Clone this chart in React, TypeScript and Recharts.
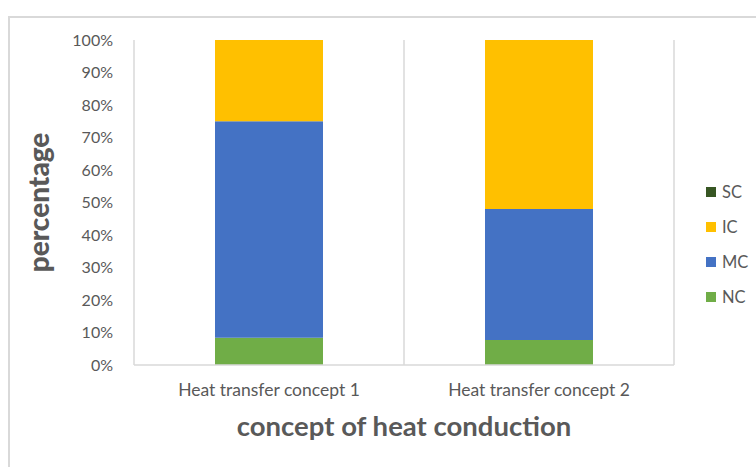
import { BarChart, Bar, XAxis, YAxis, CartesianGrid } from "recharts";

const categories = ["Heat transfer concept 1", "Heat transfer concept 2"];
const nc = [8.4, 7.7];
const mc = [66.6, 40.3];
const ic = [25, 52];
const sc = [0, 0];
const yTicks = [0, 0.1, 0.2, 0.3, 0.4, 0.5, 0.6, 0.7, 0.8, 0.9, 1];

const series = [
    { key: "NC", values: nc, color: "#70AD47" },
    { key: "MC", values: mc, color: "#4472C4" },
    { key: "IC", values: ic, color: "#FFC000" },
    { key: "SC", values: sc, color: "#375623" },
];

const data = categories.map((name, i) => {
    const row: Record<string, string | number> = { name };
    series.forEach((s) => (row[s.key] = s.values[i]));
    return row;
});

const FONT = "Lato, 'Noto Sans', sans-serif";
const TEXT = "#595959";
const GRID = "#D9D9D9";

const YLabel = ({ viewBox }: any) => {
    const x = viewBox.x + 28;
    const y = viewBox.y + viewBox.height / 2;
    return (
        <text
            x={x}
            y={y}
            transform={`rotate(-90, ${x}, ${y})`}
            textAnchor="middle"
            dominantBaseline="central"
            fill={TEXT}
            fontSize={28}
            fontWeight={900}
            fontFamily={FONT}
        >
            percentage
        </text>
    );
};

const XLabel = ({ viewBox }: any) => (
    <text
        x={viewBox.x + viewBox.width / 2}
        y={viewBox.y + 60}
        textAnchor="middle"
        dominantBaseline="central"
        fill={TEXT}
        fontSize={27.5}
        fontWeight={700}
        fontFamily={FONT}
    >
        concept of heat conduction
    </text>
);

export default function App() {
    return (
        <div
            style={{
                position: "fixed",
                left: 8,
                top: 16,
                width: 748,
                height: 451,
                borderTop: `2px solid ${GRID}`,
                borderLeft: `2px solid ${GRID}`,
                background: "#fff",
                boxSizing: "border-box",
            }}
        >
            <BarChart
                width={746}
                height={449}
                data={data}
                stackOffset="expand"
                barCategoryGap="30%"
                margin={{ top: 22, right: 82, left: 0, bottom: 0 }}
            >
                <CartesianGrid
                    horizontal={false}
                    stroke={GRID}
                    strokeWidth={1.5}
                    verticalCoordinatesGenerator={({ offset }: any) => [
                        offset.left,
                        offset.left + offset.width / 2,
                        offset.left + offset.width,
                    ]}
                />
                <XAxis
                    dataKey="name"
                    height={102}
                    tickLine={false}
                    axisLine={{ stroke: GRID, strokeWidth: 1.5 }}
                    tickMargin={13}
                    tick={{ fill: TEXT, fontSize: 17.5, fontFamily: FONT }}
                    label={<XLabel />}
                />
                <YAxis
                    width={124}
                    ticks={yTicks}
                    domain={[0, 1]}
                    interval={0}
                    tickLine={false}
                    axisLine={false}
                    tickMargin={15}
                    tickFormatter={(v: number) => `${Math.round(v * 100)}%`}
                    tick={{ fill: TEXT, fontSize: 16, fontFamily: FONT }}
                    label={<YLabel />}
                />
                {series.map((s) => (
                    <Bar
                        key={s.key}
                        dataKey={s.key}
                        stackId="a"
                        fill={s.color}
                        isAnimationActive={false}
                    />
                ))}
            </BarChart>
            <div
                style={{
                    position: "absolute",
                    left: 696,
                    top: 156,
                    fontFamily: FONT,
                    fontSize: 16.5,
                    color: TEXT,
                }}
            >
                {[...series].reverse().map((s) => (
                    <div
                        key={s.key}
                        style={{
                            display: "flex",
                            alignItems: "center",
                            height: 35,
                        }}
                    >
                        <span
                            style={{
                                width: 10,
                                height: 10,
                                background: s.color,
                                marginRight: 6,
                            }}
                        />
                        {s.key}
                    </div>
                ))}
            </div>
        </div>
    );
}
